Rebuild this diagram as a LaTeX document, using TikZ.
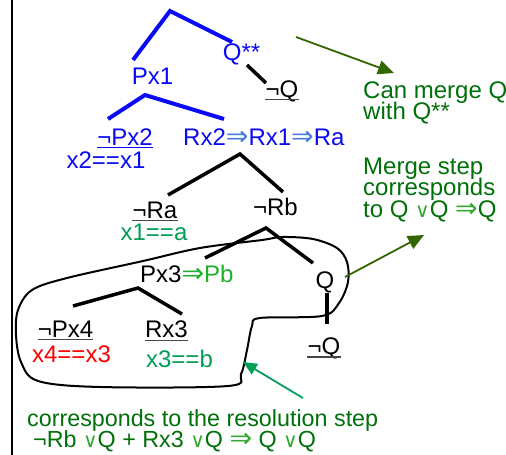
\documentclass[tikz,border=0pt]{standalone}
\usepackage{fontspec}
\setmainfont{Liberation Sans}
\newfontfamily\symf{DejaVu Sans}
\usetikzlibrary{arrows.meta}
\definecolor{tblue}{RGB}{10,10,245}
\definecolor{lblue}{RGB}{70,120,225}
\definecolor{tgreen}{RGB}{0,158,85}
\definecolor{pgreen}{RGB}{30,175,45}
\definecolor{dgreen}{RGB}{0,112,10}
\definecolor{lgreen}{RGB}{50,170,50}
\definecolor{olive}{RGB}{51,102,0}
\definecolor{agreen}{RGB}{0,160,90}
\definecolor{ulgray}{RGB}{70,70,70}
\newcommand\myimp[1]{{\color{#1}\symf\fontsize{27}{24}\selectfont ⇒}}
\newcommand\myor[1]{{\color{#1}\symf\fontsize{20}{20}\selectfont ∨}}
\begin{document}
\begin{tikzpicture}[x=1pt,y=-1pt,
  lbl/.style={inner sep=0pt, anchor=base, font=\fontsize{24}{24}\selectfont},
  rtxt/.style={inner sep=0pt, anchor=base west, text=dgreen, font=\fontsize{24}{24}\selectfont},
  btxt/.style={inner sep=0pt, anchor=base west, text=dgreen, font=\fontsize{23.3}{23.3}\selectfont},
  bedge/.style={draw=tblue, line width=4pt},
  kedge/.style={draw=black, line width=3.5pt},
  ulk/.style={draw=ulgray, line width=1.5pt},
  ulb/.style={draw=tblue, line width=1.5pt},
  note/.style={draw=olive, line width=1.8pt, -{Triangle[length=16pt,width=14pt]}},
  note2/.style={draw=agreen, line width=1.8pt, -{Triangle[length=14pt,width=12pt]}}]
\useasboundingbox (0,0) rectangle (506,455);
% left border line
\coordinate (lt) at (12,0);
\coordinate (lb) at (12,455);
\draw[line width=2.5pt] (lt) -- (lb);

% labels
\node[lbl,text=tblue] (qss) at (241.5,60) {Q**};
\node[lbl] (nq1) at (282,97) {¬Q};
\node[lbl,text=tblue] (px1) at (152.5,84) {Px1};
\node[lbl,text=tblue] (npx2) at (125,145) {¬Px2};
\node[lbl,text=tblue] (x2x1) at (106,168) {x2==x1};
\node[lbl,anchor=base west,text=tblue] (rx2) at (183,145) {Rx2\myimp{lblue}Rx1\myimp{lblue}Ra};
\node[lbl] (nra) at (155,218) {¬Ra};
\node[lbl,text=tgreen] (x1a) at (154,240) {x1==a};
\node[lbl] (nrb) at (275.5,215) {¬Rb};
\node[lbl,anchor=base west] (px3) at (140,282) {Px3\myimp{pgreen}{\color{pgreen}Pb}};
\node[lbl] (q2) at (325,288) {Q};
\node[lbl] (nq2) at (324,354) {¬Q};
\node[lbl] (npx4) at (65.5,337) {¬Px4};
\node[lbl,text=red] (x4x3) at (71.5,362) {x4==x3};
\node[lbl] (rx3) at (166.5,337) {Rx3};
\node[lbl,text=tgreen] (x3b) at (179.5,367) {x3==b};

% underlines
\draw[ulk] ([yshift=-2.5pt]nq1.base west) -- ([yshift=-2.5pt]nq1.base east);
\draw[ulb] ([yshift=-2.5pt]npx2.base west) -- ([yshift=-2.5pt]npx2.base east);
\draw[ulk] ([yshift=-2.5pt]nra.base west) -- ([yshift=-2.5pt]nra.base east);
\draw[ulk] ([yshift=-3pt]nq2.base west) -- ([yshift=-3pt]nq2.base east);
\draw[ulk] ([yshift=-2.5pt]npx4.base west) -- ([yshift=-2.5pt]npx4.base east);
\draw[ulk] ([yshift=-3.5pt]rx3.base west) -- ([yshift=-3.5pt]rx3.base east);

% right notes
\node[rtxt] (n1a) at (363,98) {Can merge Q};
\node[rtxt] (n1b) at (363,119.5) {with Q**};
\node[rtxt] (n2a) at (363,174) {Merge step};
\node[rtxt] (n2b) at (363,195.5) {corresponds};
\node[rtxt] (n2c) at (363,217) {to Q \myor{lgreen}Q \myimp{lgreen}Q};
% bottom note
\node[btxt] (n3a) at (27,426) {corresponds to the resolution step};
\node[btxt] (n3b) at (33,447.5) {¬Rb \myor{lgreen}Q + Rx3 \myor{lgreen}Q \myimp{lgreen} Q \myor{lgreen}Q};

% tree coordinates
\coordinate (t1l) at (133,60);
\coordinate (t1a) at (170,11);
\coordinate (t1r) at (232,42);
\coordinate (t2l) at (108,119);
\coordinate (t2a) at (145,95);
\coordinate (t2r) at (224,119);
\coordinate (qa) at (247,65);
\coordinate (qb) at (266,83);
\coordinate (t3l) at (168,195);
\coordinate (t3a) at (240,154);
\coordinate (t3r) at (283,192);
\coordinate (t4l) at (205,258);
\coordinate (t4a) at (266,228);
\coordinate (t4r) at (313,263);
\coordinate (t5l) at (73,306);
\coordinate (t5a) at (138,288);
\coordinate (t5r) at (182,314);
\coordinate (qv1) at (327,293);
\coordinate (qv2) at (327,324);

\draw[bedge,line join=miter] (t1l) -- (t1a) -- (t1r);
\draw[bedge] (t2l) -- (t2a) -- (t2r);
\draw[kedge] (qa) -- (qb);
\draw[kedge] (t3l) -- (t3a) -- (t3r);
\draw[kedge] (t4l) -- (t4a) -- (t4r);
\draw[kedge] (t5l) -- (t5a) -- (t5r);
\draw[kedge] (qv1) -- (qv2);

% closed outline
\draw[line width=2pt] plot[smooth cycle, tension=0.55] coordinates {
  (262,240) (200,248) (143,261) (67,278) (32,290) (18,310) (16,335) (21,362)
  (38,381) (100,387) (228,386) (241,374) (247,350) (252,326) (260,318)
  (322,316) (339,303) (348,282) (347,262) (337,248) (313,239) (282,237)};

% arrows
\coordinate (a1s) at (296,37);
\coordinate (a1e) at (394,73);
\coordinate (a2s) at (345,277);
\coordinate (a2e) at (424,235);
\coordinate (a3s) at (303,398);
\coordinate (a3e) at (243,362);
\draw[note] (a1s) -- (a1e);
\draw[note] (a2s) -- (a2e);
\draw[note2] (a3s) -- (a3e);
\end{tikzpicture}
\end{document}
